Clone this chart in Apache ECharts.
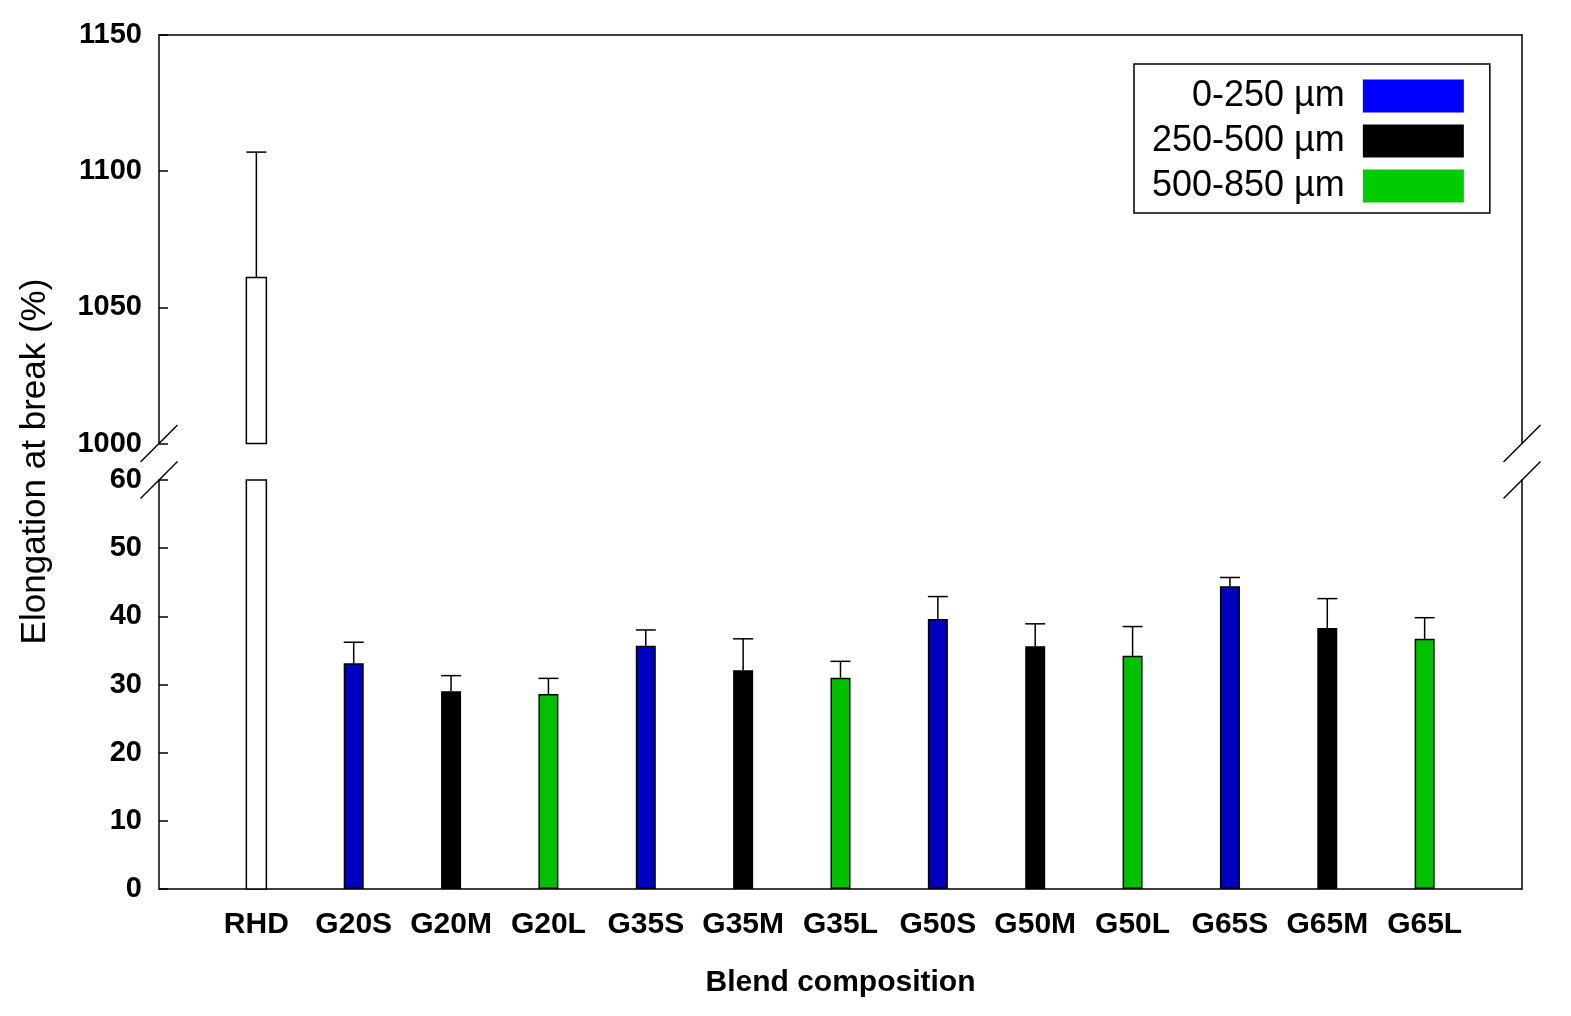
<!DOCTYPE html>
<html>
<head>
<meta charset="utf-8">
<script src="https://cdn.jsdelivr.net/npm/echarts@6/dist/echarts.min.js"></script>
<style>
  html, body { margin: 0; padding: 0; background: #fff; }
  #chart { width: 1571px; height: 1016px; }
</style>
</head>
<body>
<div id="chart"></div>
<script>
// ---- data ----
const categories = ['RHD', 'G20S', 'G20M', 'G20L', 'G35S', 'G35M', 'G35L',
  'G50S', 'G50M', 'G50L', 'G65S', 'G65M', 'G65L'];
const sizeRanges = ['0-250 µm', '250-500 µm', '500-850 µm'];
// which size range each category belongs to (null = neat RHD)
const sizeOf = [null, 0, 1, 2, 0, 1, 2, 0, 1, 2, 0, 1, 2];
const elongation = [1061, 33.1, 29.0, 28.6, 35.7, 32.1, 31.0, 39.6, 35.6, 34.2, 44.4, 38.3, 36.7];
const stdDev = [46, 3.1, 2.3, 2.3, 2.3, 4.6, 2.4, 3.3, 3.3, 4.3, 1.3, 4.3, 3.1];

// broken y axis: two ranges [min, max, step]
const upperRange = [1000, 1150, 50];
const lowerRange = [0, 60, 10];

const barColors = ['#0000c0', '#000000', '#00c000'];
const legendColors = ['#0000ff', '#000000', '#00cc00'];
const FONT = "'Liberation Sans', Arial, sans-serif";

// ---- layout ----
const LEFT = 159, PLOT_W = 1363;
const UP_TOP = 35, UP_H = 408.5;
const LO_TOP = 480, LO_H = 409;
const BAR_W = 20;

const chart = echarts.init(document.getElementById('chart'));

const xOf = i => i + 1;

// white RHD bar, clamped to the visible part of each panel
const rhdRender = (lo, hi) => (params, api) => {
  const x = api.value(0), v = api.value(1);
  const a = api.coord([x, lo]);
  const b = api.coord([x, Math.min(v, hi)]);
  return {
    type: 'rect',
    shape: { x: a[0] - BAR_W / 2, y: b[1], width: BAR_W, height: a[1] - b[1] },
    style: { fill: '#fff', stroke: '#000', lineWidth: 1.5 }
  };
};

// upper-only error bar
const errRender = (params, api) => {
  const x = api.value(0), m = api.value(1), t = api.value(2);
  const p0 = api.coord([x, m]);
  const p1 = api.coord([x, t]);
  const st = { stroke: '#000', lineWidth: 1.5 };
  return {
    type: 'group',
    children: [
      { type: 'line', shape: { x1: p0[0], y1: p0[1], x2: p1[0], y2: p1[1] }, style: st },
      { type: 'line', shape: { x1: p1[0] - BAR_W / 2, y1: p1[1], x2: p1[0] + BAR_W / 2, y2: p1[1] }, style: st }
    ]
  };
};

const rhdIdx = sizeOf.indexOf(null);
const errData = categories.map((c, i) => [xOf(i), elongation[i], elongation[i] + stdDev[i]]);

const sizeSeries = sizeRanges.map((name, k) => ({
  name,
  type: 'bar',
  xAxisIndex: 1,
  yAxisIndex: 2,
  barWidth: BAR_W,
  barGap: '-100%',
  itemStyle: { color: barColors[k], borderColor: '#000', borderWidth: 1.5 },
  data: categories.map((c, i) => (sizeOf[i] === k ? [xOf(i), elongation[i]] : null))
    .filter(d => d)
}));

const yLabel = {
  fontSize: 29, fontWeight: 'bold', color: '#000', fontFamily: FONT, margin: 17,
  formatter: v => String(v)
};
const axisLine = { show: true, lineStyle: { color: '#000', width: 1.5 } };
const tick = { show: true, inside: true, length: 9, lineStyle: { color: '#000', width: 1.5 } };

const breaks = [];
[LEFT, LEFT + PLOT_W].forEach(x => {
  [UP_TOP + UP_H, LO_TOP].forEach(y => {
    breaks.push({
      type: 'line',
      shape: { x1: x - 18.5, y1: y + 18.5, x2: x + 18.5, y2: y - 18.5 },
      style: { stroke: '#000', lineWidth: 1.5 }
    });
  });
});

chart.setOption({
  animation: false,
  backgroundColor: '#fff',
  grid: [
    { left: LEFT, top: UP_TOP, width: PLOT_W, height: UP_H },
    { left: LEFT, top: LO_TOP, width: PLOT_W, height: LO_H }
  ],
  xAxis: [
    {
      gridIndex: 0, type: 'value', position: 'top', min: 0, max: categories.length + 1,
      axisLine, axisTick: { show: false }, axisLabel: { show: false }, splitLine: { show: false }
    },
    {
      gridIndex: 1, type: 'value', min: 0, max: categories.length + 1, interval: 1,
      axisLine, axisTick: { show: false }, splitLine: { show: false },
      axisLabel: {
        fontSize: 30, fontWeight: 'bold', color: '#000', fontFamily: FONT, margin: 21,
        formatter: v => categories[v - 1] || ''
      },
      name: 'Blend composition', nameLocation: 'middle', nameGap: 79,
      nameTextStyle: { fontSize: 30, fontWeight: 'bold', color: '#000', fontFamily: FONT }
    }
  ],
  yAxis: [
    {
      gridIndex: 0, type: 'value', min: upperRange[0], max: upperRange[1], interval: upperRange[2],
      axisLine, axisTick: tick, axisLabel: yLabel, splitLine: { show: false }
    },
    {
      gridIndex: 0, type: 'value', position: 'right', min: upperRange[0], max: upperRange[1],
      axisLine, axisTick: { show: false }, axisLabel: { show: false }, splitLine: { show: false }
    },
    {
      gridIndex: 1, type: 'value', min: lowerRange[0], max: lowerRange[1], interval: lowerRange[2],
      axisLine, axisTick: tick, axisLabel: yLabel, splitLine: { show: false }
    },
    {
      gridIndex: 1, type: 'value', position: 'right', min: lowerRange[0], max: lowerRange[1],
      axisLine, axisTick: { show: false }, axisLabel: { show: false }, splitLine: { show: false }
    }
  ],
  legend: {
    orient: 'vertical',
    left: 1134,
    top: 64,
    align: 'right',
    padding: [14, 26, 9, 18],
    itemWidth: 101,
    itemHeight: 33,
    itemGap: 9,
    borderColor: '#000',
    borderWidth: 1.5,
    selectedMode: false,
    itemStyle: { borderWidth: 0 },
    textStyle: {
      fontSize: 36, color: '#000', fontFamily: FONT,
      width: 215, align: 'right', padding: [0, 13, 0, 0]
    },
    data: sizeRanges.map((n, k) => ({ name: n, icon: 'rect', itemStyle: { color: legendColors[k], borderWidth: 0 } }))
  },
  graphic: [
    {
      type: 'text', x: 35, y: 461.5, rotation: Math.PI / 2,
      style: { text: 'Elongation at break (%)', font: '35px ' + FONT, fill: '#000', align: 'center', verticalAlign: 'middle' }
    },
    ...breaks
  ],
  series: [
    ...sizeSeries,
    {
      type: 'custom', xAxisIndex: 0, yAxisIndex: 0, z: 3,
      renderItem: rhdRender(upperRange[0], upperRange[1]),
      data: [[xOf(rhdIdx), elongation[rhdIdx]]]
    },
    {
      type: 'custom', xAxisIndex: 1, yAxisIndex: 2, z: 3,
      renderItem: rhdRender(lowerRange[0], lowerRange[1]),
      data: [[xOf(rhdIdx), elongation[rhdIdx]]]
    },
    {
      type: 'custom', xAxisIndex: 0, yAxisIndex: 0, z: 4,
      renderItem: errRender,
      data: errData.filter((d, i) => elongation[i] >= upperRange[0])
    },
    {
      type: 'custom', xAxisIndex: 1, yAxisIndex: 2, z: 4,
      renderItem: errRender,
      data: errData.filter((d, i) => elongation[i] <= lowerRange[1])
    }
  ]
});
</script>
</body>
</html>
